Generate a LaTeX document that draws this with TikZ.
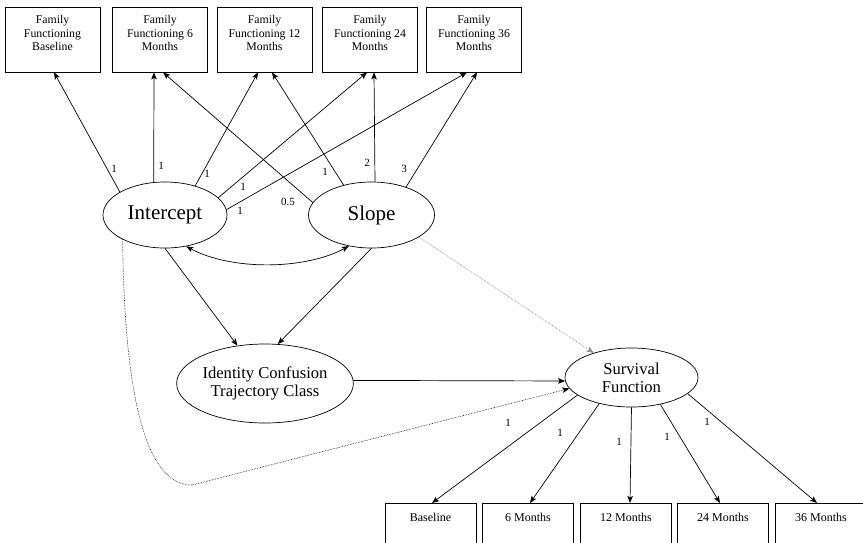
\documentclass[tikz,border=0pt]{standalone}
\usepackage{fontspec}
\setmainfont{Liberation Serif}
\usetikzlibrary{shapes.geometric,arrows.meta}
\begin{document}
\begin{tikzpicture}[x=1pt,y=-1pt,
  line width=0.7pt,
  topbox/.style={draw, rectangle, minimum width=95pt, minimum height=65pt, inner sep=0pt, align=center, font=\fontsize{11.8}{13.5}\selectfont, text depth=13pt},
  botbox/.style={draw, rectangle, minimum width=91pt, minimum height=60pt, inner sep=0pt, anchor=north, font=\fontsize{12}{14}\selectfont, text depth=32pt},
  lat/.style={draw, ellipse, inner sep=0pt},
  lab/.style={font=\fontsize{11}{13}\selectfont, inner sep=0pt},
  tip/.tip={Stealth[length=7pt,width=5.5pt,inset=1.5pt]},
  arr/.style={-tip},
  dbl/.style={tip-tip},
  dotblack/.style={densely dotted, line width=0.6pt},
  dotgray/.style={densely dotted, draw=black!45, line width=0.7pt},
]
\clip (0,0) rectangle (863,542);
\useasboundingbox (0,0) rectangle (863,542);

% top indicator boxes
\node[topbox] (b1) at (52.5,39.5) {Family\\Functioning\\Baseline};
\node[topbox] (b2) at (160,39.5) {Family\\Functioning 6\\Months};
\node[topbox] (b3) at (264.5,39.5) {Family\\Functioning 12\\Months};
\node[topbox] (b4) at (370,39.5) {Family\\Functioning 24\\Months};
\node[topbox] (b5) at (474,39.5) {Family\\Functioning 36\\Months};

% latent ellipses
\node[lat, minimum width=124pt, minimum height=66pt, font=\fontsize{21}{24}\selectfont] (int) at (165,215) {Intercept};
\node[lat, minimum width=126pt, minimum height=66pt, font=\fontsize{21}{24}\selectfont] (slope) at (371.5,215) {Slope};
\node[lat, minimum width=174pt, minimum height=79pt, align=center, font=\fontsize{16.6}{18}\selectfont] (ident) at (265,383.5) {Identity Confusion\\Trajectory Class};
\node[lat, minimum width=133pt, minimum height=59pt, align=center, font=\fontsize{16.6}{18}\selectfont] (surv) at (631.5,377.5) {Survival\\Function};

% bottom boxes
\node[botbox] (c1) at (430.5,503) {Baseline};
\node[botbox] (c2) at (528,503) {6 Months};
\node[botbox] (c3) at (626,503) {12 Months};
\node[botbox] (c4) at (723,503) {24 Months};
\node[botbox] (c5) at (821,503) {36 Months};

% intercept loadings
\draw[arr] (int.153.4) -- ([xshift=1.5pt]b1.south);
\draw[arr] (int.109) -- ([xshift=-6pt]b2.south);
\draw[arr] (int.44) -- ([xshift=-6.5pt]b3.south);
\draw[arr] (int.18.8) -- ([xshift=-3pt]b4.south);
\draw[arr] (int.5.6) -- ([xshift=-7pt]b5.south);

% slope loadings
\draw[arr] (slope.168.5) -- ([xshift=3pt]b2.south);
\draw[arr] (slope.133) -- ([xshift=7.5pt]b3.south);
\draw[arr] (slope.84.6) -- ([xshift=4pt]b4.south);
\draw[arr] (slope.39.5) -- ([xshift=3pt]b5.south);

% loading labels
\node[lab] (l1) at (114,169) {1};
\node[lab] (l2) at (161,166) {1};
\node[lab] (l3) at (207,174) {1};
\node[lab] (l4) at (243,187) {1};
\node[lab] (l5) at (240,211) {1};
\node[lab] (l6) at (288,202) {0.5};
\node[lab] (l7) at (325,172) {1};
\node[lab] (l8) at (367,163) {2};
\node[lab] (l9) at (404,169) {3};

% covariance
\draw[dbl] (int.-56.3) .. controls +(45,24) and +(-45,24) .. (slope.-126);

% to identity class
\draw[arr] (int.-90) -- (ident.126.4);
\draw[arr] (slope.-90) -- (ident.72.5);

% identity to survival
\draw[arr] (ident.2) -- (surv.183);

% dotted paths
\draw[dotgray, arr] (slope.-25.1) -- (surv.147.3);
\coordinate (dc) at (192,485);
\draw[dotblack] (int.210.8) .. controls +(2,180) and +(-40,0) .. (dc);
\draw[dotblack, arr] (dc) -- (surv.190);

% survival indicators
\draw[arr] (surv.198.7) -- ([xshift=1.5pt]c1.north);
\draw[arr] (surv.219.3) -- ([xshift=2pt]c2.north);
\draw[arr] (surv.270) -- ([xshift=4pt]c3.north);
\draw[arr] (surv.-43) -- ([xshift=-3pt]c4.north);
\draw[arr] (surv.-16.6) -- ([xshift=-4pt]c5.north);

\node[lab] (m1) at (508,423) {1};
\node[lab] (m2) at (560,433) {1};
\node[lab] (m3) at (619,442) {1};
\node[lab] (m4) at (667,437) {1};
\node[lab] (m5) at (707,422) {1};
\end{tikzpicture}
\end{document}
